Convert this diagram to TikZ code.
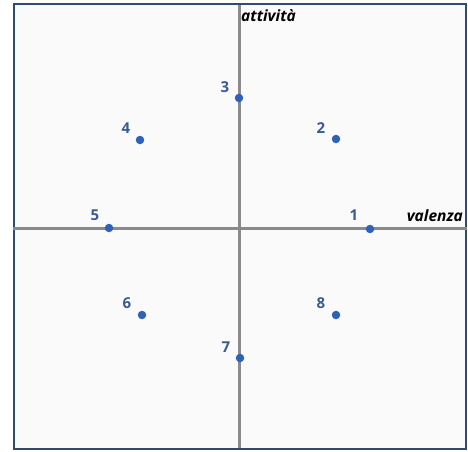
\documentclass[tikz,border=0pt]{standalone}
\usepackage{fontspec}
\setmainfont{Open Sans}
\definecolor{framec}{HTML}{2F4B70}
\definecolor{axisc}{HTML}{8A8A8A}
\definecolor{dotc}{HTML}{2E62B8}
\definecolor{numc}{HTML}{3A5A95}
\definecolor{bgc}{HTML}{FAFAFA}
\begin{document}
\begin{tikzpicture}[x=1pt,y=-1pt,
  axisline/.style={draw=axisc,line width=3pt},
  pt/.style={circle,fill=dotc,inner sep=0pt,minimum size=8.5pt},
  num/.style={text=numc,font=\bfseries\fontsize{15}{15}\selectfont,inner sep=0pt},
  axlabel/.style={font=\bfseries\itshape\fontsize{15.5}{15.5}\selectfont,inner sep=0pt}]
\useasboundingbox (0,0) rectangle (468,451);
\node[draw=framec,fill=bgc,line width=2pt,minimum width=452pt,minimum height=445pt,inner sep=0pt] (frame) at (240,226.5) {};
\coordinate (xl) at (frame.west |- 0,228);
\coordinate (xr) at (frame.east |- 0,228);
\coordinate (yt) at (239,5);
\coordinate (yb) at (239,448);
\draw[axisline] (xl) -- (xr);
\draw[axisline] (yt) -- (yb);
\node[axlabel,anchor=north west] (att) at (241,9) {attività};
\node[axlabel,anchor=south east] (val) at (463,222) {valenza};
\node[pt] (p1) at (370,229) {};
\node[pt] (p2) at (336,139) {};
\node[pt] (p3) at (239,98) {};
\node[pt] (p4) at (140,140) {};
\node[pt] (p5) at (109,228) {};
\node[pt] (p6) at (142,315) {};
\node[pt] (p7) at (240,358) {};
\node[pt] (p8) at (336,315) {};
\node[num] (l1) at (354,215) {1};
\node[num] (l2) at (321,128) {2};
\node[num] (l3) at (225,87) {3};
\node[num] (l4) at (126,128) {4};
\node[num] (l5) at (95,215) {5};
\node[num] (l6) at (127,303) {6};
\node[num] (l7) at (226,347) {7};
\node[num] (l8) at (321,303) {8};
\end{tikzpicture}
\end{document}
